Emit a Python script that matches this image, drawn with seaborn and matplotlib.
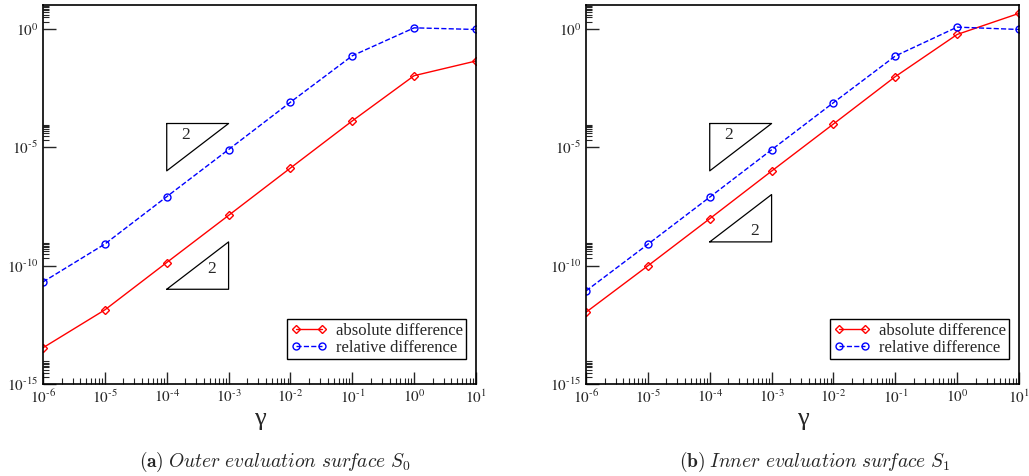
import numpy as np
import pandas as pd
import matplotlib
matplotlib.use("Agg")
import matplotlib.pyplot as plt
import matplotlib.ticker as mticker
import seaborn as sns

# --- data (log10 of the differences) ---
gamma = [1e-6, 1e-5, 1e-4, 1e-3, 1e-2, 1e-1, 1e0, 1e1]

abs_outer_log = [-13.47, -11.87, -9.87, -7.88, -5.88, -3.89, -1.98, -1.36]
rel_outer_log = [-10.69, -9.09, -7.09, -5.10, -3.10, -1.14, 0.04, -0.03]

abs_inner_log = [-11.97, -10.01, -8.02, -6.01, -4.02, -2.02, -0.24, 0.65]
rel_inner_log = [-11.07, -9.10, -7.11, -5.11, -3.12, -1.15, 0.07, -0.03]

captions = [r"$\mathbf{(a)}$ $\mathit{Outer\ evaluation\ sur\!face}\ S_0$",
            r"$\mathbf{(b)}$ $\mathit{Inner\ evaluation\ sur\!face}\ S_1$"]

# slope triangles: (x0, x1, y_low, y_high, label_x, label_y)
tri_upper = (1e-4, 1e-3, 1e-6, 1e-4, 10**-3.7, 10**-4.5)
tri_lower_outer = (1e-4, 1e-3, 1e-11, 1e-9, 10**-3.28, 10**-10.13)
tri_lower_inner = (1e-4, 1e-3, 1e-9, 1e-7, 10**-3.28, 10**-8.54)

sns.set_theme(style="ticks")
plt.rcParams['font.family'] = ['Liberation Serif', 'DejaVu Serif']
plt.rcParams['mathtext.fontset'] = 'stix'


def pow10(v, pos):
    e = int(round(np.log10(v)))
    if e < 0:
        return r"$10^{\text{-%d}}$" % (-e)
    return r"$10^{%d}$" % e


def draw_panel(ax, abs_log, rel_log, tri_low):
    df = pd.DataFrame({
        "gamma": gamma,
        "absolute difference": 10.0 ** np.array(abs_log),
        "relative difference": 10.0 ** np.array(rel_log),
    })
    sns.lineplot(data=df, x="gamma", y="absolute difference", ax=ax,
                 color="red", lw=1.0, marker="D", ms=4.0, mfc="none",
                 mec="red", mew=1.0, label="absolute difference")
    sns.lineplot(data=df, x="gamma", y="relative difference", ax=ax,
                 color="blue", lw=1.0, marker="o", ms=5.0, mfc="none",
                 mec="blue", mew=1.0, dashes=(4, 3), linestyle="--",
                 label="relative difference")

    ax.set_xscale("log")
    ax.set_yscale("log")
    ax.set_xlim(1e-6, 1e1)
    ax.set_ylim(1e-15, 1e1)

    # ticks only inside the visible range
    ax.xaxis.set_major_locator(mticker.FixedLocator(gamma))
    xmin = [m * 10.0 ** k for k in range(-6, 1) for m in range(2, 10)]
    ax.xaxis.set_minor_locator(mticker.FixedLocator(xmin))
    ax.yaxis.set_major_locator(mticker.FixedLocator([1e-15, 1e-10, 1e-5, 1e0]))
    ymin = [m * 10.0 ** k for k in (-15, -10, -5, 0) for m in range(2, 10)]
    ax.yaxis.set_minor_locator(mticker.FixedLocator(ymin))
    ax.xaxis.set_major_formatter(mticker.FuncFormatter(pow10))
    ax.yaxis.set_major_formatter(mticker.FuncFormatter(pow10))
    ax.xaxis.set_minor_formatter(mticker.NullFormatter())
    ax.yaxis.set_minor_formatter(mticker.NullFormatter())

    ax.tick_params(which="major", direction="in", length=9, width=1.0,
                   labelsize=11, top=False, right=False)
    ax.tick_params(which="minor", direction="in", length=4.5, width=0.8,
                   top=False, right=False)
    for sp in ax.spines.values():
        sp.set_linewidth(1.2)
        sp.set_color("black")

    ax.set_xlabel("γ", fontsize=19, labelpad=1)
    ax.set_ylabel("")

    # slope triangles
    x0, x1, y0, y1, lx, ly = tri_upper
    ax.plot([x0, x1, x0, x0], [y1, y1, y0, y1], color="black", lw=0.9)
    ax.text(lx, ly, "2", fontsize=12.5, ha="center", va="center")
    x0, x1, y0, y1, lx, ly = tri_low
    ax.plot([x0, x1, x1, x0], [y0, y0, y1, y0], color="black", lw=0.9)
    ax.text(lx, ly, "2", fontsize=12.5, ha="center", va="center")

    leg = ax.legend(loc="lower right", bbox_to_anchor=(0.977, 0.066),
                    borderaxespad=0, fontsize=12, fancybox=False,
                    frameon=True, edgecolor="black", framealpha=1,
                    handlelength=2.2, numpoints=2, borderpad=0.2,
                    labelspacing=0.05, handletextpad=0.5)
    leg.get_frame().set_linewidth(1.0)


fig = plt.figure(figsize=(10.29, 4.76), dpi=100)
ax1 = fig.add_axes([0.0418, 0.1933, 0.4208, 0.796])
ax2 = fig.add_axes([0.5695, 0.1933, 0.4208, 0.796])

draw_panel(ax1, abs_outer_log, rel_outer_log, tri_lower_outer)
draw_panel(ax2, abs_inner_log, rel_inner_log, tri_lower_inner)

fig.text(0.267, 0.03, captions[0], fontsize=14, ha="center", va="center",
         math_fontfamily="cm")
fig.text(0.792, 0.03, captions[1], fontsize=14, ha="center", va="center",
         math_fontfamily="cm")

fig.savefig("out.png", dpi=100)
